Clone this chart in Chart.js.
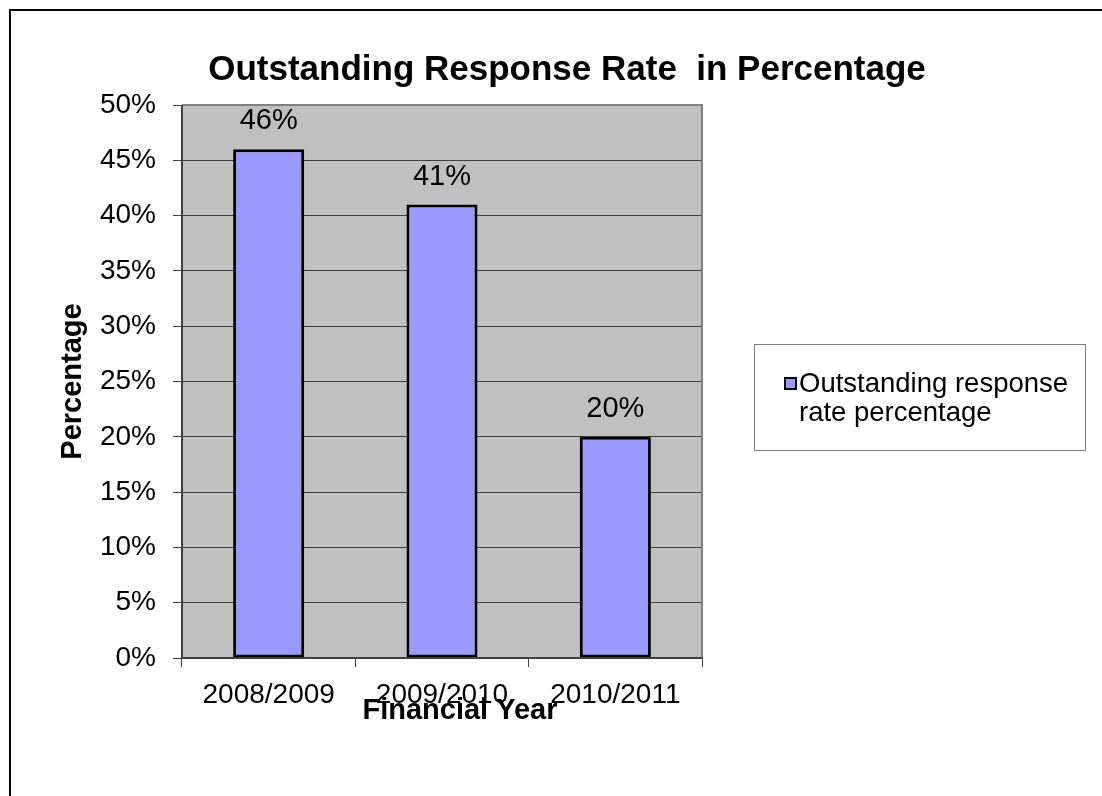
<!DOCTYPE html>
<html>
<head>
<meta charset="utf-8">
<script src="https://cdn.jsdelivr.net/npm/chart.js@4.4.1/dist/chart.umd.min.js"></script>
<style>
  html, body { margin: 0; padding: 0; background: #fff; }
  #wrap { width: 1102px; height: 796px; }
</style>
</head>
<body>
<div id="wrap"><canvas id="chart" width="1102" height="796"></canvas></div>
<script>
// Chart data
var years = ['2008/2009', '2009/2010', '2010/2011'];
var responseRates = [46, 41, 20];
var seriesName = 'Outstanding response rate percentage';
var legendLines = ['Outstanding response', 'rate percentage'];
var chartTitle = 'Outstanding Response Rate  in Percentage';
var xTitle = 'Financial Year';

var FONT = 'Arial, "Liberation Sans", sans-serif';
var TXT = 28;

// Frame, plot background, plot border, data labels, titles and legend box.
var decor = {
    id: 'decor',
    beforeDraw: function (chart) {
        var ctx = chart.ctx;
        var a = chart.chartArea;
        ctx.save();
        ctx.fillStyle = '#fff';
        ctx.fillRect(0, 0, chart.width, chart.height);
        // outer frame (only top/left visible in the crop)
        ctx.strokeStyle = '#000';
        ctx.lineWidth = 2;
        ctx.strokeRect(10, 10, chart.width + 20, chart.height + 20);
        ctx.fillStyle = '#c0c0c0';
        ctx.fillRect(a.left, a.top, a.right - a.left, a.bottom - a.top);
        ctx.restore();
    },
    afterDatasetsDraw: function (chart) {
        var ctx = chart.ctx;
        var a = chart.chartArea;
        ctx.save();
        // plot border: grey top/right, dark left/bottom
        ctx.lineWidth = 2;
        ctx.strokeStyle = '#808080';
        ctx.beginPath();
        ctx.moveTo(a.left, a.top);
        ctx.lineTo(a.right, a.top);
        ctx.lineTo(a.right, a.bottom);
        ctx.stroke();
        ctx.strokeStyle = '#404040';
        ctx.beginPath();
        ctx.moveTo(a.left, a.top);
        ctx.lineTo(a.left, a.bottom);
        ctx.lineTo(a.right, a.bottom);
        ctx.stroke();

        // value labels above bars
        var meta = chart.getDatasetMeta(0);
        ctx.fillStyle = '#000';
        ctx.font = '29px ' + FONT;
        ctx.textAlign = 'center';
        ctx.textBaseline = 'middle';
        meta.data.forEach(function (bar, i) {
            ctx.fillText(responseRates[i] + '%', bar.x, bar.y - 28);
        });

        // chart title
        ctx.font = 'bold 35px ' + FONT;
        ctx.fillText(chartTitle, 567, 70);

        // x axis title (sits a bit right of the plot centre, over the labels)
        ctx.font = 'bold 29px ' + FONT;
        ctx.fillText(xTitle, 460, 711);

        // legend
        ctx.strokeStyle = '#808080';
        ctx.lineWidth = 1;
        ctx.strokeRect(754.5, 344.5, 331, 106);
        ctx.fillStyle = '#9999ff';
        ctx.fillRect(785, 378, 11, 11);
        ctx.strokeStyle = '#000';
        ctx.lineWidth = 2;
        ctx.strokeRect(785, 378, 11, 11);
        ctx.fillStyle = '#000';
        ctx.font = '27.5px ' + FONT;
        ctx.textAlign = 'left';
        ctx.fillText(legendLines[0], 799, 384);
        ctx.fillText(legendLines[1], 799, 413);
        ctx.restore();
    }
};

new Chart(document.getElementById('chart'), {
    type: 'bar',
    data: {
        labels: years,
        datasets: [{
            label: seriesName,
            data: responseRates,
            backgroundColor: '#9999ff',
            borderColor: '#000',
            borderWidth: 3,
            borderSkipped: false,
            categoryPercentage: 0.41,
            barPercentage: 1.0
        }]
    },
    options: {
        responsive: false,
        animation: false,
        layout: { padding: { left: 56, right: 400, top: 105, bottom: 64 } },
        plugins: {
            legend: { display: false },
            title: { display: false },
            tooltip: { enabled: false }
        },
        scales: {
            x: {
                offset: true,
                grid: {
                    offset: true,
                    drawOnChartArea: false,
                    drawTicks: true,
                    tickLength: 9,
                    color: '#404040'
                },
                border: { display: false },
                ticks: {
                    color: '#000',
                    padding: 11,
                    maxRotation: 0,
                    autoSkip: false,
                    font: { family: FONT, size: TXT }
                },
                title: { display: false },
                afterFit: function (s) { s.height = 74; }
            },
            y: {
                min: 0,
                max: 50,
                grid: {
                    color: '#404040',
                    lineWidth: 1,
                    tickLength: 9
                },
                border: { display: false },
                ticks: {
                    stepSize: 5,
                    color: '#000',
                    padding: 17,
                    font: { family: FONT, size: TXT },
                    callback: function (v) { return v + '%'; }
                },
                title: {
                    display: true,
                    text: 'Percentage',
                    color: '#000',
                    padding: { top: 0, bottom: 0 },
                    font: { family: FONT, size: 29, weight: 'bold' }
                },
                afterFit: function (s) { s.width = 126; }
            }
        }
    },
    plugins: [decor]
});
</script>
</body>
</html>
